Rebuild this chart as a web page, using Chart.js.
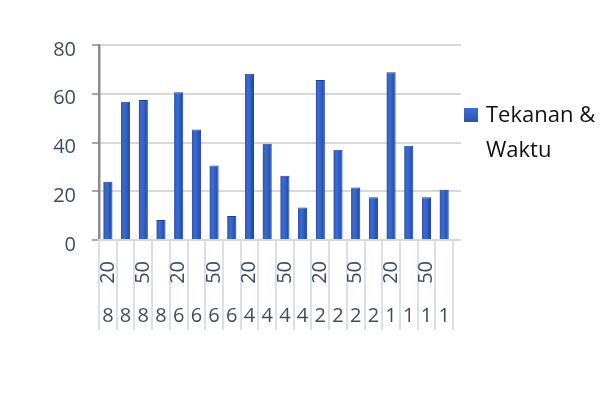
<!DOCTYPE html>
<html>
<head>
<meta charset="utf-8">
<script src="https://cdn.jsdelivr.net/npm/chart.js@4/dist/chart.umd.min.js"></script>
<style>
  html, body { margin: 0; padding: 0; background: #ffffff; }
  #wrap { width: 606px; height: 414px; position: relative; }
</style>
</head>
<body>
<div id="wrap"><canvas id="c" width="606" height="414"></canvas></div>
<script>
// Category labels: upper row (rotated) and lower row (group)
const upperLabels = ['20', '', '50', '', '20', '', '50', '', '20', '', '50', '', '20', '', '50', '', '20', '', '50', ''];
const lowerLabels = ['8', '8', '8', '8', '6', '6', '6', '6', '4', '4', '4', '4', '2', '2', '2', '2', '1', '1', '1', '1'];

// Series
const seriesName = 'Tekanan & Waktu';
const legendLines = ['Tekanan &', 'Waktu'];
const values = [23.9, 56.7, 57.4, 8.2, 60.6, 45.3, 30.6, 9.8, 68.2, 39.5,
                26.4, 13.3, 65.6, 37.0, 21.5, 17.5, 68.8, 38.7, 17.5, 20.6];

// Value axis ticks
const yMin = 0, yMax = 80, yStep = 20;

const FONT = "'Open Sans', 'Noto Sans', sans-serif";
const AXIS_TEXT = '#3f4d63';

// Horizontal shading across each bar to give it a rounded look
function barFill(ctx) {
  const chart = ctx.chart;
  if (ctx.type !== 'data' || !chart.chartArea) return '#2f5ec2';
  const xs = chart.scales.x;
  const cx = xs.getPixelForValue(ctx.dataIndex);
  const w = (xs.width / values.length) * 0.52;
  const g = chart.ctx.createLinearGradient(cx - w / 2, 0, cx + w / 2, 0);
  g.addColorStop(0, '#2b55b5');
  g.addColorStop(0.35, '#3b6cd3');
  g.addColorStop(0.7, '#2d59bd');
  g.addColorStop(1, '#1c3a86');
  return g;
}

// Value gridlines run a little past the last category
const gridTail = {
  id: 'gridTail',
  beforeDatasetsDraw(chart) {
    const { ctx, chartArea } = chart;
    const ys = chart.scales.y;
    ctx.save();
    ctx.strokeStyle = '#d9d9d9';
    ctx.lineWidth = 2;
    ys.ticks.forEach(t => {
      const py = Math.round(ys.getPixelForValue(t.value));
      ctx.beginPath();
      ctx.moveTo(chartArea.right, py);
      ctx.lineTo(chartArea.right + 8, py);
      ctx.stroke();
    });
    ctx.restore();
  }
};

// Legend drawn to the right of the plot, text wrapped on two lines
const sideLegend = {
  id: 'sideLegend',
  afterDraw(chart) {
    const { ctx, chartArea } = chart;
    const x = chartArea.right + 11;
    const y = chartArea.top + 63;
    const g = ctx.createLinearGradient(0, y, 0, y + 14);
    g.addColorStop(0, '#3d70d8');
    g.addColorStop(1, '#2a52b0');
    ctx.save();
    ctx.fillStyle = g;
    ctx.fillRect(x, y, 14, 14);
    ctx.fillStyle = '#111111';
    ctx.font = "22px " + FONT;
    ctx.textBaseline = 'alphabetic';
    ctx.textAlign = 'left';
    legendLines.forEach((line, i) => {
      ctx.fillText(line, x + 22, y + 14 + i * 35);
    });
    ctx.restore();
  }
};

new Chart(document.getElementById('c'), {
  type: 'bar',
  data: {
    labels: upperLabels,
    datasets: [{
      label: seriesName,
      data: values,
      backgroundColor: barFill,
      borderColor: '#213f8f',
      borderWidth: { left: 0, right: 1, top: 1, bottom: 0 },
      barPercentage: 0.52,
      categoryPercentage: 1.0
    }]
  },
  options: {
    responsive: false,
    animation: false,
    devicePixelRatio: 1,
    layout: { padding: { top: 45, right: 153, bottom: 84, left: 0 } },
    plugins: {
      legend: { display: false },
      tooltip: { enabled: false },
      title: { display: false }
    },
    scales: {
      y: {
        min: yMin,
        max: yMax,
        afterFit(s) { s.width = 99; },
        ticks: {
          stepSize: yStep,
          color: AXIS_TEXT,
          font: { family: FONT, size: 20 },
          padding: 16,
          labelOffset: 5
        },
        grid: {
          color: '#d9d9d9',
          lineWidth: 2,
          tickLength: 7,
          tickColor: '#8c8c8c',
          tickWidth: 1.5
        },
        border: { color: '#8c8c8c', width: 2.5 }
      },
      x: {
        type: 'category',
        labels: upperLabels,
        position: 'bottom',
        afterFit(s) { s.height = 50; },
        ticks: {
          autoSkip: false,
          minRotation: 90,
          maxRotation: 90,
          color: AXIS_TEXT,
          font: { family: FONT, size: 20 },
          padding: -69
        },
        grid: {
          offset: true,
          drawOnChartArea: false,
          drawTicks: true,
          tickLength: 90,
          color: '#dbe0e8',
          lineWidth: 2
        },
        border: { color: '#d9d9d9', width: 2 }
      },
      x2: {
        type: 'category',
        labels: lowerLabels,
        position: 'bottom',
        afterFit(s) { s.height = 40; },
        ticks: {
          autoSkip: false,
          maxRotation: 0,
          minRotation: 0,
          color: AXIS_TEXT,
          font: { family: FONT, size: 20 },
          padding: 6
        },
        grid: { display: false },
        border: { display: false }
      }
    }
  },
  plugins: [gridTail, sideLegend]
});
</script>
</body>
</html>
